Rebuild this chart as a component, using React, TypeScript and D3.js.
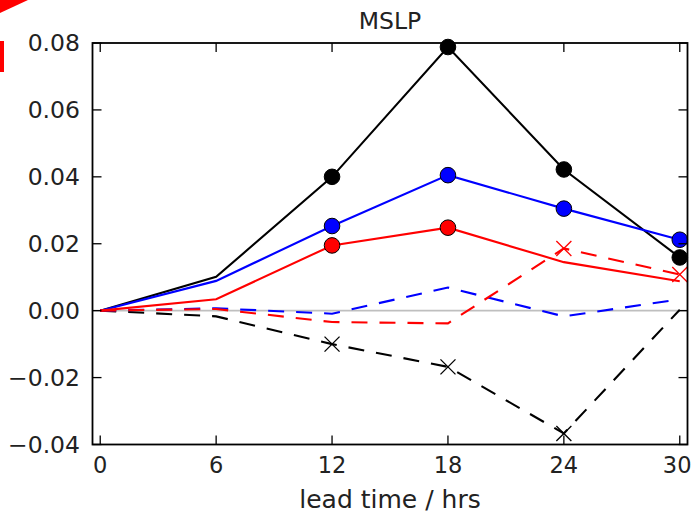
import React from "react";
import * as d3 from "d3";

const leadTimes = [0, 6, 12, 18, 24, 30];
const xTicks = [0, 6, 12, 18, 24, 30];
const yTicks = [-0.04, -0.02, 0.0, 0.02, 0.04, 0.06, 0.08];

const blackSolid = [0, 0.0101, 0.04, 0.0788, 0.0422, 0.0159];
const blueSolid = [0, 0.0089, 0.0253, 0.0405, 0.0305, 0.0212];
const redSolid = [0, 0.0034, 0.0195, 0.0248, 0.0145, 0.0088];
const blackDashed = [0, -0.0017, -0.01, -0.0168, -0.0367, 0.0003];
const blueDashed = [0, 0.0007, -0.0009, 0.0069, -0.0017, 0.0034];
const redDashed = [0, 0.0005, -0.0034, -0.0038, 0.0186, 0.0108];

// which points carry markers
const blackSolidMarks = [false, false, true, true, true, true];
const blueSolidMarks = [false, false, true, true, true, true];
const redSolidMarks = [false, false, true, true, false, false];
const blackDashedMarks = [false, false, true, true, true, false];
const blueDashedMarks = [false, false, false, false, false, false];
const redDashedMarks = [false, false, false, false, true, true];

const W = 693;
const H = 515;
const FONT = "'DejaVu Sans', sans-serif";

export default function App() {
  const x = d3.scaleLinear().domain([-0.4, 30.4]).range([92.5, 687.5]);
  const y = d3.scaleLinear().domain([-0.04, 0.08]).range([444.5, 43]);
  const line = d3
    .line<number>()
    .x((_, i) => x(leadTimes[i]))
    .y((d) => y(d));

  const series = [
    { vals: blackSolid, color: "#000000", dash: null, marks: blackSolidMarks, mk: "o" },
    { vals: blackDashed, color: "#000000", dash: "16,12", marks: blackDashedMarks, mk: "x" },
    { vals: blueSolid, color: "#0000ff", dash: null, marks: blueSolidMarks, mk: "o" },
    { vals: blueDashed, color: "#0000ff", dash: "16,12", marks: blueDashedMarks, mk: "x" },
    { vals: redSolid, color: "#ff0000", dash: null, marks: redSolidMarks, mk: "o" },
    { vals: redDashed, color: "#ff0000", dash: "16,12", marks: redDashedMarks, mk: "x" },
  ];

  const [x0, x1] = x.range();
  const [yb, yt] = y.range();
  const tickLen = 9;
  const xFs = 22.5;

  return (
    <svg
      width={W}
      height={H}
      style={{ position: "absolute", left: 0, top: 0, background: "#fff" }}
      fontFamily={FONT}
    >
      <rect x={0} y={0} width={W} height={H} fill="#fff" />
      {/* cropped red fragments at top-left */}
      <polygon points="0,0 28,0 0,13" fill="#ff0000" />
      <rect x={0} y={41} width={4} height={31} fill="#ff0000" />

      {/* zero line */}
      <line x1={x0} x2={x1} y1={y(0)} y2={y(0)} stroke="#bfbfbf" strokeWidth={1.8} />

      {series.map((s, si) => (
        <path
          key={"l" + si}
          d={line(s.vals) || ""}
          fill="none"
          stroke={s.color}
          strokeWidth={2.1}
          strokeDasharray={s.dash || undefined}
        />
      ))}
      {series.map((s, si) =>
        s.vals.map((v, i) => {
          if (!s.marks[i]) return null;
          const cx = x(leadTimes[i]);
          const cy = y(v);
          if (s.mk === "o") {
            return (
              <circle key={`m${si}-${i}`} cx={cx} cy={cy} r={7.8} fill={s.color} stroke="#000" strokeWidth={1} />
            );
          }
          const r = 7.5;
          return (
            <g key={`m${si}-${i}`} stroke={s.color} strokeWidth={1.3}>
              <line x1={cx - r} y1={cy - r} x2={cx + r} y2={cy + r} />
              <line x1={cx - r} y1={cy + r} x2={cx + r} y2={cy - r} />
            </g>
          );
        })
      )}

      {/* frame */}
      <rect x={x0} y={yt} width={x1 - x0} height={yb - yt} fill="none" stroke="#000" strokeWidth={1.8} />

      {/* x ticks */}
      {xTicks.map((t) => {
        const label = String(t);
        const half = (label.length * 0.636 * xFs) / 2;
        const lx = Math.min(x(t), W - 1.5 - half);
        return (
          <g key={"xt" + t}>
            <line x1={x(t)} x2={x(t)} y1={yb} y2={yb - tickLen} stroke="#000" strokeWidth={1.3} />
            <line x1={x(t)} x2={x(t)} y1={yt} y2={yt + tickLen} stroke="#000" strokeWidth={1.3} />
            <text x={lx} y={473} textAnchor="middle" fontSize={xFs} fill="#222">
              {label}
            </text>
          </g>
        );
      })}
      {/* y ticks */}
      {yTicks.map((t) => (
        <g key={"yt" + t}>
          <line x1={x0} x2={x0 + tickLen} y1={y(t)} y2={y(t)} stroke="#000" strokeWidth={1.3} />
          <line x1={x1} x2={x1 - tickLen} y1={y(t)} y2={y(t)} stroke="#000" strokeWidth={1.3} />
          <text x={80} y={y(t)} dy="0.36em" textAnchor="end" fontSize={23.5} fill="#222">
            {t < 0 ? "\u2212" + Math.abs(t).toFixed(2) : t.toFixed(2)}
          </text>
        </g>
      ))}

      <text x={(x0 + x1) / 2} y={29} textAnchor="middle" fontSize={23.5} fill="#222">
        MSLP
      </text>
      <text x={(x0 + x1) / 2} y={508} textAnchor="middle" fontSize={25} fill="#222">
        lead time / hrs
      </text>
    </svg>
  );
}
